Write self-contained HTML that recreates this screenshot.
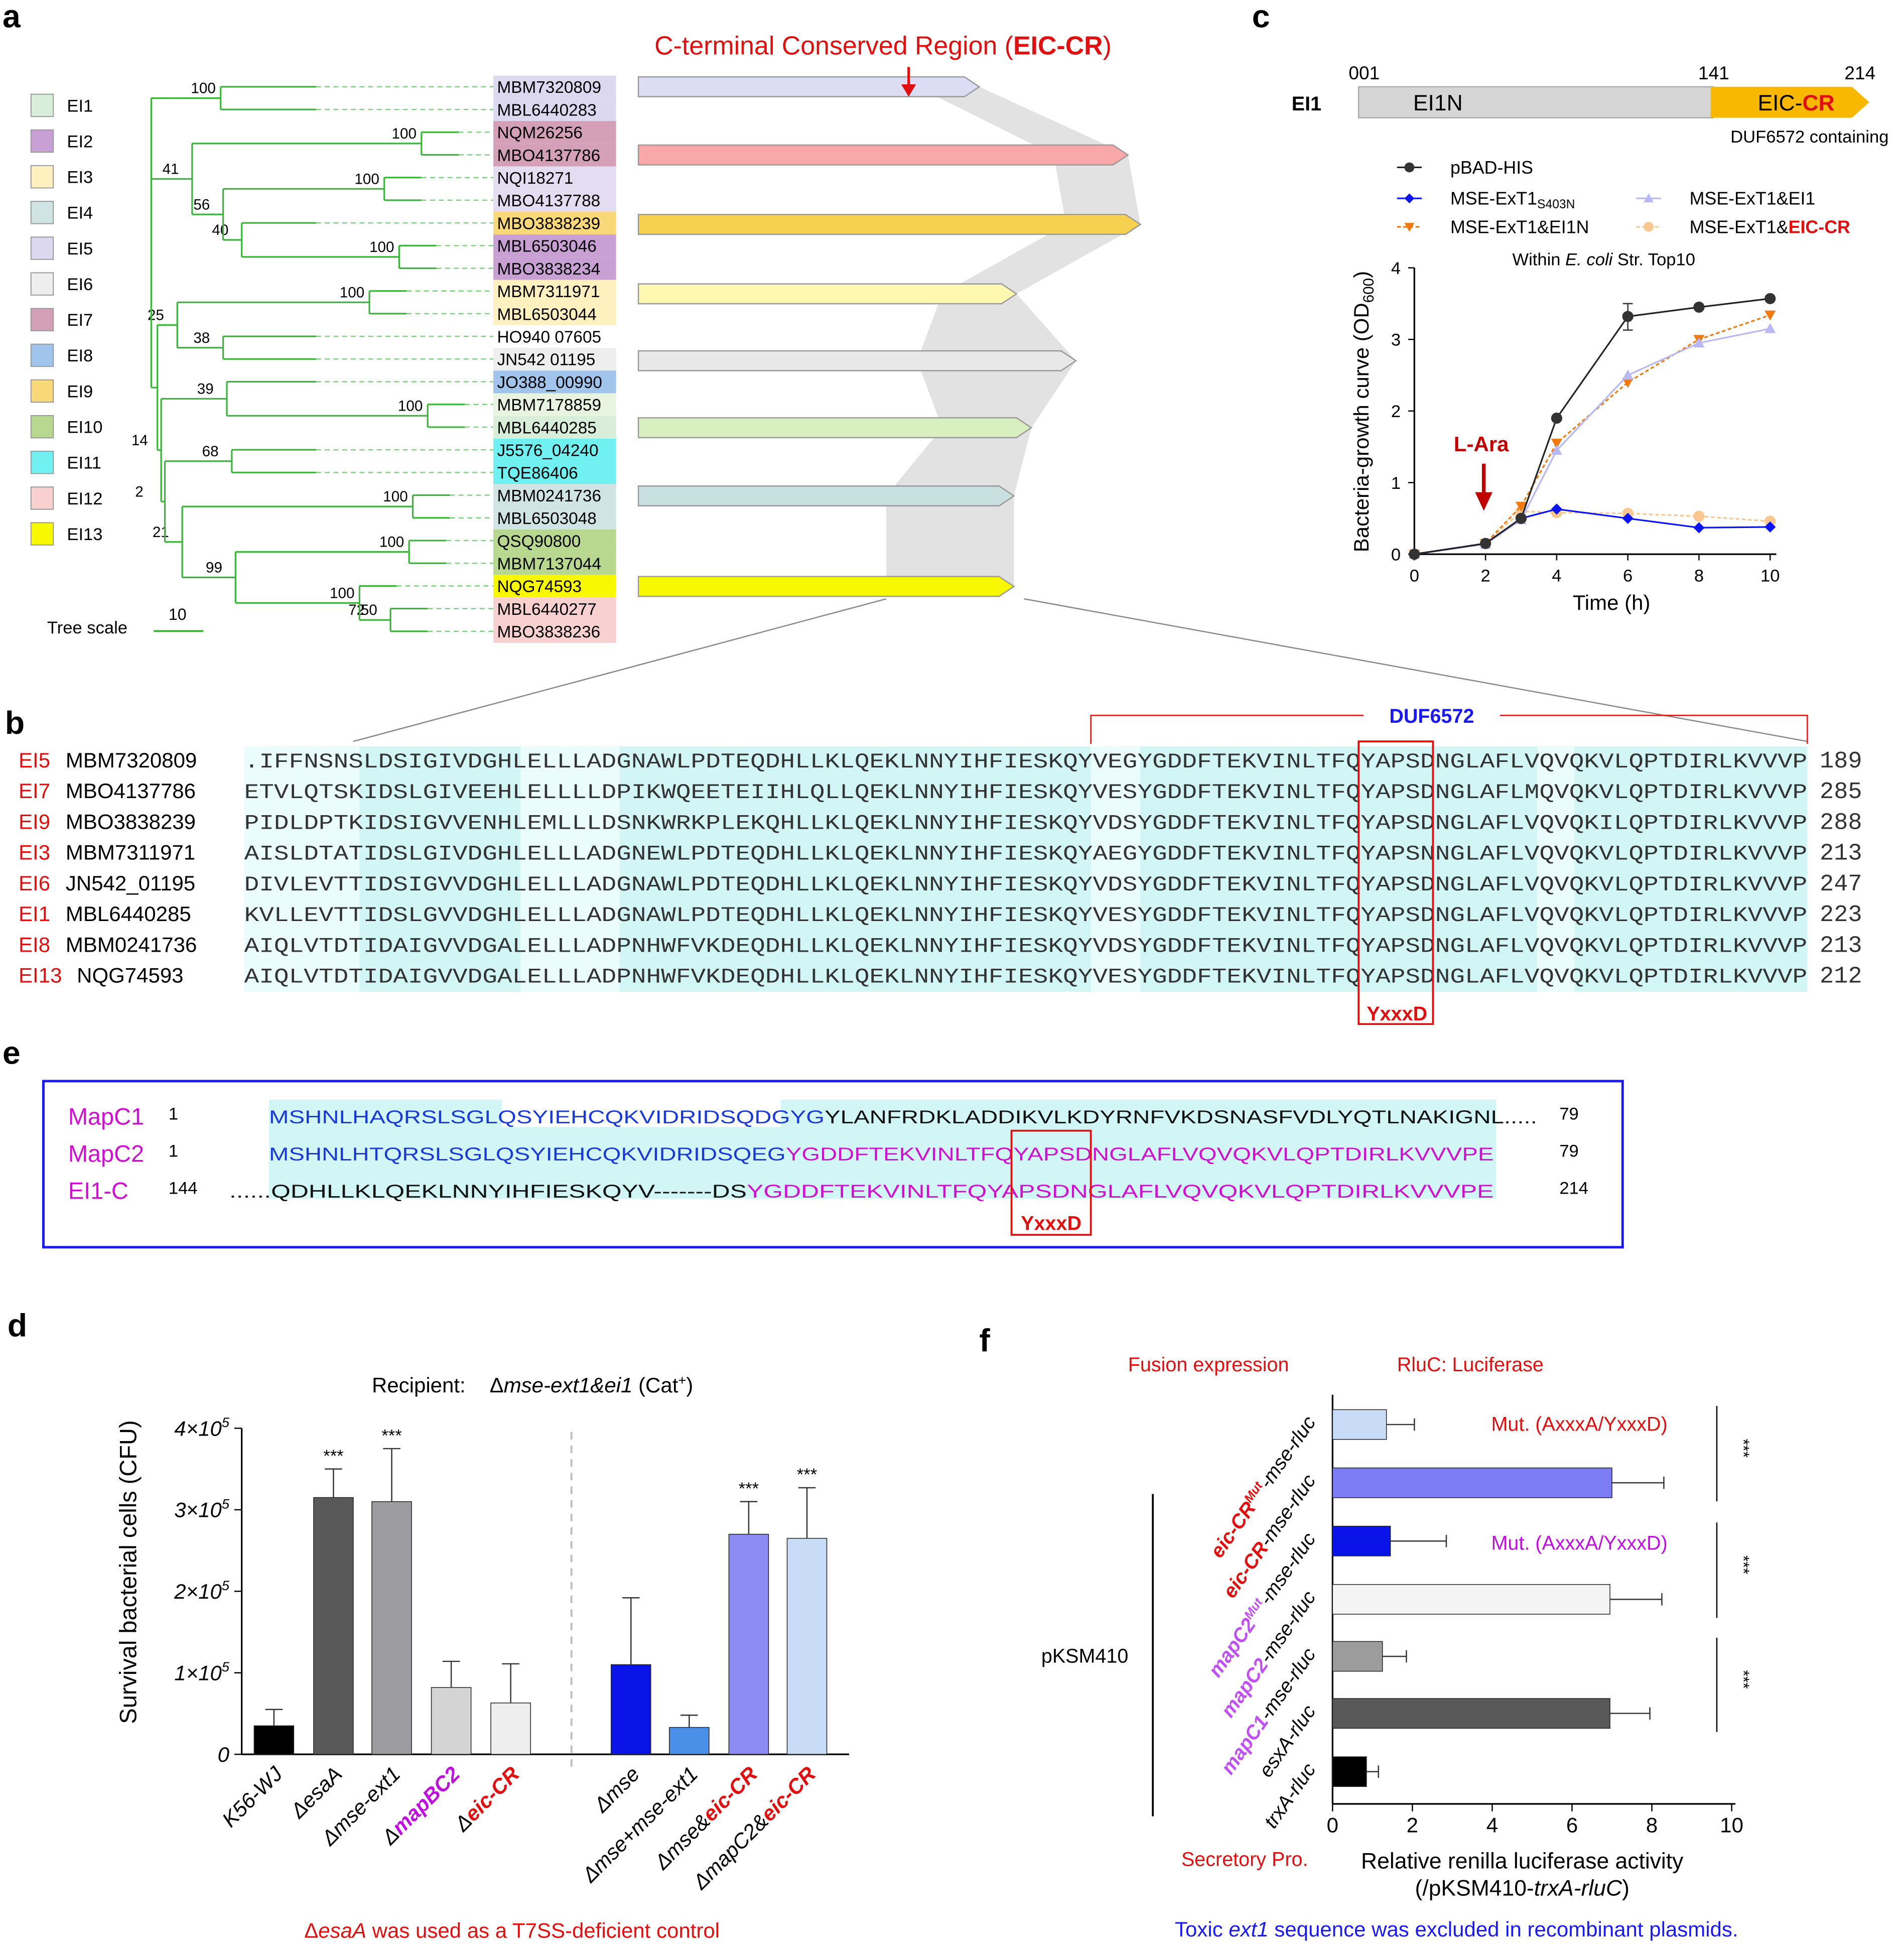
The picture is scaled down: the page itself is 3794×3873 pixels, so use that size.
<!DOCTYPE html>
<html><head><meta charset="utf-8">
<style>
html,body{margin:0;padding:0;background:#fff;}
svg{display:block;font-family:"Liberation Sans",sans-serif;}
.mono{font-family:"Liberation Mono",monospace;}
</style></head>
<body>
<svg id="fig" xmlns="http://www.w3.org/2000/svg" width="3794" height="3873" viewBox="0 0 1536 1568" preserveAspectRatio="none">
<g font-weight="bold" font-size="26">
<text x="2" y="22">a</text><text x="1010" y="22">c</text><text x="4" y="592">b</text>
<text x="2" y="858">e</text><text x="6" y="1078">d</text><text x="790" y="1090">f</text>
</g>
<g id="panelA"></g>
<g id="panelB"></g>
<g id="panelC"></g>
<g id="panelE"></g>
<g id="panelD"></g>
<g id="panelF"></g>
</svg>
<script>
const cTimes = [0,2,3,4,6,8,10];
const cPbad = [0,0.15,0.5,1.9,3.32,3.45,3.57];
const cS403N = [0,0.15,0.5,0.63,0.5,0.37,0.38];
const cEI1 = [0,0.14,0.48,1.45,2.5,2.95,3.15];
const cEI1N = [0,0.15,0.67,1.55,2.4,3.0,3.34];
const cEICR = [0,0.15,0.6,0.58,0.57,0.53,0.46];
const cXTicks = [0,2,4,6,8,10];
const cYTicks = [0,1,2,3,4];
const dCats = ["K56-WJ","ΔesaA","Δmse-ext1","ΔmapBC2","Δeic-CR","Δmse","Δmse+mse-ext1","Δmse&eic-CR","ΔmapC2&eic-CR"];
const dVals = [0.35,3.15,3.1,0.82,0.63,1.1,0.33,2.7,2.65];
const dErr = [0.2,0.35,0.65,0.32,0.48,0.82,0.15,0.4,0.62];
const dSig = ["","***","***","","","","","***","***"];
const dYTicks = [0,1,2,3,4];
const fCats = ["eic-CRMut-mse-rluc","eic-CR-mse-rluc","mapC2Mut-mse-rluc","mapC2-mse-rluc","mapC1-mse-rluc","esxA-rluc","trxA-rluc"];
const fVals = [1.35,7.0,1.45,6.95,1.25,6.95,0.85];
const fErr = [0.7,1.3,1.4,1.3,0.6,1.0,0.3];
const fXTicks = [0,2,4,6,8,10];

const NS="http://www.w3.org/2000/svg";
function mk(parent,tag,attrs,text){const e=document.createElementNS(NS,tag);for(const k in attrs)e.setAttribute(k,attrs[k]);if(text!==undefined)e.textContent=text;parent.appendChild(e);return e;}

(function(){
const g=document.getElementById('panelA');
const leg=[["EI1","#d8eed8"],["EI2","#c8a0d4"],["EI3","#fff0c0"],["EI4","#d0e4e4"],["EI5","#dcd8f0"],["EI6","#eeeeee"],["EI7","#d4a0b8"],["EI8","#a0c4ec"],["EI9","#f8d878"],["EI10","#b8d890"],["EI11","#70f0f0"],["EI12","#f8d0d0"],["EI13","#f8f800"]];
leg.forEach((l,i)=>{const y=76+i*28.8;
 const r=mk(g,'rect',{x:25,y:y,width:18,height:18,fill:l[1],stroke:'#999','stroke-width':0.8});
 
 
 const t=mk(g,'text',{x:54,y:y+14,'font-size':14},l[0]);
 
 
});
const leaves=["MBM7320809","MBL6440283","NQM26256","MBO4137786","NQI18271","MBO4137788","MBO3838239","MBL6503046","MBO3838234","MBM7311971","MBL6503044","HO940 07605","JN542 01195","JO388_00990","MBM7178859","MBL6440285","J5576_04240","TQE86406","MBM0241736","MBL6503048","QSQ90800","MBM7137044","NQG74593","MBL6440277","MBO3838236"];
const lcol=["#dcd8f0","#dcd8f0","#d4a0b8","#d4a0b8","#e4dcf0","#e4dcf0","#f8d878","#c8a0d4","#c8a0d4","#fff0c0","#fff0c0","#fff","#eeeeee","#a0c4ec","#e8f4e0","#d8eed8","#70f0f0","#70f0f0","#d0e4e4","#d0e4e4","#b8d890","#b8d890","#f8f800","#f8d0d0","#f8d0d0"];
const ly=i=>70+i*18.3;
leaves.forEach((n,i)=>{const y=ly(i);
 mk(g,'rect',{x:398,y:y-9,width:99,height:18.3,fill:lcol[i]});
 const t=mk(g,'text',{x:401,y:y+5,'font-size':13.5},n);
 
 
});
const tree=[122,[[140,[[178,[0,1],"100"]],""],[155,[[340,[2,3],"100"],[180,[[310,[4,5],"100"],[195,[6,[322,[7,8],"100"]],"40"]],"56"]],"41"],
 [127,[[143,[[298,[9,10],"100"],[180,[11,12],"38"]],"25"],[130,[[183,[13,[345,[14,15],"100"]],"39"],[133,[[187,[16,17],"68"],[147,[[333,[18,19],"100"],[190,[[330,[20,21],"100"],[290,[22,[305,[[315,[23,24],"50"]],"72"]],"100"]],"99"]],"21"]],"2"]],"14"]],""]],""];
function draw(n,px){
 if(typeof n==='number'){const y=ly(n);const tx=255;mk(g,'line',{x1:px,y1:y,x2:Math.max(tx,px+30),y2:y,stroke:'#3cb43c','stroke-width':1.3});
  mk(g,'line',{x1:Math.max(tx,px+30),y1:y,x2:398,y2:y,stroke:'#7fd07f','stroke-width':1,'stroke-dasharray':'4,3'});return y;}
 const x=n[0];const ys=n[1].map(c=>draw(c,x));const y0=Math.min(...ys),y1=Math.max(...ys);const ym=(y0+y1)/2;
 mk(g,'line',{x1:x,y1:y0,x2:x,y2:y1,stroke:'#3cb43c','stroke-width':1.3});
 if(px!==null)mk(g,'line',{x1:px,y1:ym,x2:x,y2:ym,stroke:'#3cb43c','stroke-width':1.3});
 if(n[2])mk(g,'text',{x:x-24,y:ym-4,'font-size':12},n[2]);
 return ym;}
draw(tree,null);
const ts=mk(g,'text',{x:38,y:511,'font-size':14},"Tree scale");
mk(g,'text',{x:136,y:500,'font-size':13},"10");
mk(g,'line',{x1:124,y1:509,x2:164,y2:509,stroke:'#3cb43c','stroke-width':1.5});
mk(g,'polygon',{points:"790,70 910,125 920,181 820,237 868,291 832,345 818,400 818,473 715,473 715,400 760,345 740,291 760,237 860,181 850,125 740,70",fill:'#e2e2e2'});
const arrows=[[70,790,"#dcdcf4"],[125,910,"#f8a8a8"],[181,920,"#f8d050"],[237,820,"#fff8b0"],[291,868,"#e8e8e8"],[345,832,"#d8f0c0"],[400,818,"#c8e0e0"],[473,818,"#f8f800"]];
arrows.forEach(a=>{const y=a[0],e=a[1];const p=mk(g,'polygon',{points:`515,${y-8} ${e-12},${y-8} ${e},${y} ${e-12},${y+8} 515,${y+8}`,fill:a[2],stroke:'#999','stroke-width':1});
 });
const tt=mk(g,'text',{x:528,y:44,'font-size':21,fill:'#e01010'});tt.innerHTML='C-terminal Conserved Region (<tspan font-weight="bold">EIC-CR</tspan>)';

mk(g,'line',{x1:733,y1:54,x2:733,y2:72,stroke:'#e01010','stroke-width':2});
mk(g,'polygon',{points:"727,68 739,68 733,78",fill:'#e01010'});
mk(g,'line',{x1:715,y1:483,x2:285,y2:598,stroke:'#888','stroke-width':1});
mk(g,'line',{x1:826,y1:483,x2:1458,y2:598,stroke:'#888','stroke-width':1});
})();

(function(){
const g=document.getElementById('panelB');
const rows=[["EI5","MBM7320809",".IFFNSNSLDSIGIVDGHLELLLADGNAWLPDTEQDHLLKLQEKLNNYIHFIESKQYVEGYGDDFTEKVINLTFQYAPSDNGLAFLVQVQKVLQPTDIRLKVVVP","189"],
["EI7","MBO4137786","ETVLQTSKIDSLGIVEEHLELLLLDPIKWQEETEIIHLQLLQEKLNNYIHFIESKQYVESYGDDFTEKVINLTFQYAPSDNGLAFLMQVQKVLQPTDIRLKVVVP","285"],
["EI9","MBO3838239","PIDLDPTKIDSIGVVENHLEMLLLDSNKWRKPLEKQHLLKLQEKLNNYIHFIESKQYVDSYGDDFTEKVINLTFQYAPSDNGLAFLVQVQKILQPTDIRLKVVVP","288"],
["EI3","MBM7311971","AISLDTATIDSLGIVDGHLELLLADGNEWLPDTEQDHLLKLQEKLNNYIHFIESKQYAEGYGDDFTEKVINLTFQYAPSNNGLAFLVQVQKVLQPTDIRLKVVVP","213"],
["EI6","JN542_01195","DIVLEVTTIDSIGVVDGHLELLLADGNAWLPDTEQDHLLKLQEKLNNYIHFIESKQYVDSYGDDFTEKVINLTFQYAPSDNGLAFLVQVQKVLQPTDIRLKVVVP","247"],
["EI1","MBL6440285","KVLLEVTTIDSLGVVDGHLELLLADGNAWLPDTEQDHLLKLQEKLNNYIHFIESKQYVESYGDDFTEKVINLTFQYAPSDNGLAFLVQVQKVLQPTDIRLKVVVP","223"],
["EI8","MBM0241736","AIQLVTDTIDAIGVVDGALELLLADPNHWFVKDEQDHLLKLQEKLNNYIHFIESKQYVDSYGDDFTEKVINLTFQYAPSDNGLAFLVQVQKVLQPTDIRLKVVVP","213"],
["EI13","NQG74593","AIQLVTDTIDAIGVVDGALELLLADPNHWFVKDEQDHLLKLQEKLNNYIHFIESKQYVESYGDDFTEKVINLTFQYAPSDNGLAFLVQVQKVLQPTDIRLKVVVP","212"]];
[[197,1458]].forEach(b=>mk(g,'rect',{x:b[0],y:602,width:b[1]-b[0],height:198,fill:'#d2f6f6'}));
[[197,290],[420,500],[880,920],[1240,1270]].forEach(b=>mk(g,'rect',{x:b[0],y:602,width:b[1]-b[0],height:198,fill:'#eafcfc'}));
rows.forEach((r,i)=>{const y=619+i*24.8;
 mk(g,'text',{x:15,y:y,'font-size':17,fill:'#e01010'},r[0]);
 const n=mk(g,'text',{x:r[0].length>3?62:53,y:y,'font-size':17},r[1]);
 const s=mk(g,'text',{x:197,y:y,'font-size':17,class:'mono',textLength:1261,lengthAdjust:'spacingAndGlyphs',fill:'#333'},r[2]);
 
 mk(g,'text',{x:1468,y:y,'font-size':19,class:'mono',fill:'#333'},r[3]);
});
mk(g,'rect',{x:1096,y:598,width:60,height:228,fill:'none',stroke:'#e01010','stroke-width':1.5});
mk(g,'text',{x:1127,y:823,'font-size':16,'font-weight':'bold',fill:'#e01010','text-anchor':'middle'},"YxxxD");
mk(g,'path',{d:"M880,600 V577 H1100 M1210,577 H1458 V600",fill:'none',stroke:'#e01010','stroke-width':1});
mk(g,'text',{x:1155,y:583,'font-size':16,'font-weight':'bold',fill:'#1a1af0','text-anchor':'middle'},"DUF6572");
})();

(function(){
const g=document.getElementById('panelC');
mk(g,'rect',{x:1096,y:70,width:286,height:25,fill:'#d6d6d6',stroke:'#aaa'});
mk(g,'polygon',{points:"1380,70 1494,70 1508,82.5 1494,95 1380,95",fill:'#f8b800'});
mk(g,'text',{x:1042,y:89,'font-size':16,'font-weight':'bold'},"EI1");
mk(g,'text',{x:1140,y:89,'font-size':18},"EI1N");
const ec=mk(g,'text',{x:1418,y:89,'font-size':18});ec.innerHTML='EIC-<tspan fill="#e01010" font-weight="bold">CR</tspan>';
mk(g,'text',{x:1088,y:64,'font-size':15},"001");mk(g,'text',{x:1370,y:64,'font-size':15},"141");mk(g,'text',{x:1488,y:64,'font-size':15},"214");
mk(g,'text',{x:1396,y:115,'font-size':14},"DUF6572 containing");
const X=t=>1141+t*28.7, Y=v=>447-v*57.75;
const series=[[cPbad,'#222','circle',false,'#333'],[cS403N,'#0a14f0','diamond',false,'#0a14f0'],[cEI1,'#b8b8f4','tri',false,'#b8b8f4'],[cEI1N,'#f07a10','tridown',true,'#f07a10'],[cEICR,'#f8c890','circle',true,'#f8c890']];
function marker(par,t,x,y,c,s){
 if(t==='circle')return mk(par,'circle',{cx:x,cy:y,r:s,fill:c});
 if(t==='diamond')return mk(par,'polygon',{points:`${x},${y-s} ${x+s},${y} ${x},${y+s} ${x-s},${y}`,fill:c});
 if(t==='tri')return mk(par,'polygon',{points:`${x},${y-s} ${x+s},${y+s*0.8} ${x-s},${y+s*0.8}`,fill:c});
 return mk(par,'polygon',{points:`${x},${y+s} ${x+s},${y-s*0.8} ${x-s},${y-s*0.8}`,fill:c});}
const legs=[["pBAD-HIS",1137,140,0],["MSE-ExT1",1137,165,1],["MSE-ExT1&EI1N",1137,188,3],["MSE-ExT1&EI1",1330,165,2],["MSE-ExT1&EIC-CR",1330,188,4]];
legs.forEach(l=>{const s=series[l[3]];mk(g,'line',{x1:l[1]-10,y1:l[2]-5,x2:l[1]+10,y2:l[2]-5,stroke:s[1],'stroke-width':1.3,'stroke-dasharray':s[3]?'3,2':''});
 marker(g,s[2],l[1],l[2]-5,s[4],4);
 const t=mk(g,'text',{x:l[1]+33,y:l[2],'font-size':14.5});
 if(l[0]==="MSE-ExT1")t.innerHTML='MSE-ExT1<tspan font-size="10" dy="3">S403N</tspan>';
 else if(l[0]==="MSE-ExT1&EIC-CR")t.innerHTML='MSE-ExT1&amp;<tspan fill="#e01010" font-weight="bold">EIC-CR</tspan>';
 else t.textContent=l[0];
 });
const wt=mk(g,'text',{x:1220,y:214,'font-size':14});wt.innerHTML='Within <tspan font-style="italic">E. coli</tspan> Str. Top10';
mk(g,'line',{x1:1141,y1:216,x2:1141,y2:447,stroke:'#000','stroke-width':1.3});
mk(g,'line',{x1:1141,y1:447,x2:1433,y2:447,stroke:'#000','stroke-width':1.3});
cYTicks.forEach(v=>{mk(g,'line',{x1:1136,y1:Y(v),x2:1141,y2:Y(v),stroke:'#000'});const t=mk(g,'text',{x:1130,y:Y(v)+5,'font-size':14,'text-anchor':'end'},v);});
cXTicks.forEach(v=>{mk(g,'line',{x1:X(v),y1:447,x2:X(v),y2:452,stroke:'#000'});const t=mk(g,'text',{x:X(v),y:469,'font-size':14,'text-anchor':'middle'},v);});
const xt=mk(g,'text',{x:1300,y:492,'font-size':17,'text-anchor':'middle'},"Time (h)");
const yt=mk(g,'text',{x:0,y:0,'font-size':17,'text-anchor':'middle',transform:'translate(1104,332) rotate(-90)'});yt.innerHTML='Bacteria-growth curve (OD<tspan font-size="12" dy="4">600</tspan><tspan dy="-4">)</tspan>';

mk(g,'path',{d:`M${X(6)},${Y(3.5)} V${Y(3.13)} M${X(6)-4},${Y(3.5)} H${X(6)+4} M${X(6)-4},${Y(3.13)} H${X(6)+4}`,stroke:'#333',fill:'none'});
series.slice().reverse().forEach(s=>{
 const pts=cTimes.map((t,i)=>X(t)+','+Y(s[0][i])).join(' ');
 const pl=mk(g,'polyline',{points:pts,fill:'none',stroke:s[1],'stroke-width':1.3,'stroke-dasharray':s[3]?'3,2':''});
 
 cTimes.forEach((t,i)=>{const m=marker(g,s[2],X(t),Y(s[0][i]),s[4],4.5);});
});
mk(g,'text',{x:1195,y:364,'font-size':17,'font-weight':'bold',fill:'#c00000','text-anchor':'middle'},"L-Ara");
mk(g,'line',{x1:1197,y1:374,x2:1197,y2:400,stroke:'#c00000','stroke-width':3});
mk(g,'polygon',{points:"1190,397 1204,397 1197,412",fill:'#c00000'});
})();

(function(){
const g=document.getElementById('panelE');
mk(g,'rect',{x:35,y:872,width:1274,height:134,fill:'none',stroke:'#1a1af0','stroke-width':2});
mk(g,'rect',{x:217,y:887,width:990,height:80,fill:'#d2f6f6'});
mk(g,'rect',{x:405,y:887,width:225,height:22,fill:'#fff'});
const rows=[["MapC1","1",'<tspan fill="#1a3ad8">MSHNLHAQRSLSGLQSYIEHCQKVIDRIDSQDGYG</tspan>YLANFRDKLADDIKVLKDYRNFVKDSNASFVDLYQTLNAKIGNL.....',"79",217,1240],
["MapC2","1",'<tspan fill="#1a3ad8">MSHNLHTQRSLSGLQSYIEHCQKVIDRIDSQEG</tspan><tspan fill="#d010d0">YGDDFTEKVINLTFQYAPSDNGLAFLVQVQKVLQPTDIRLKVVVPE</tspan>',"79",217,1205],
["EI1-C","144",'......QDHLLKLQEKLNNYIHFIESKQYV-------DS<tspan fill="#d010d0">YGDDFTEKVINLTFQYAPSDNGLAFLVQVQKVLQPTDIRLKVVVPE</tspan>',"214",185,1205]];
rows.forEach((r,i)=>{const y=906+i*30;
 const n=mk(g,'text',{x:55,y:y+1,'font-size':19,fill:'#d010d0'},r[0]);
 mk(g,'text',{x:136,y:y-3,'font-size':14},r[1]);
 const s=mk(g,'text',{x:r[4],y:y,'font-size':15,textLength:r[5]-r[4],lengthAdjust:'spacingAndGlyphs',fill:'#111'});s.innerHTML=r[2];
 
 mk(g,'text',{x:1258,y:y-3,'font-size':14},r[3]);});
mk(g,'rect',{x:816,y:912,width:64,height:84,fill:'none',stroke:'#e01010','stroke-width':1.5});
mk(g,'text',{x:848,y:992,'font-size':16,'font-weight':'bold',fill:'#e01010','text-anchor':'middle'},"YxxxD");
})();

(function(){
const g=document.getElementById('panelD');
const X0=[221,269,316,364,412,509,556,604,651];
const colors=["#000","#595959","#9c9ca0","#d4d4d4","#eeeeee","#0a14e8","#4a90e8","#8c8cf4","#c8dcf8"];
const Y=v=>1415-v*65.75;
mk(g,'text',{x:300,y:1123,'font-size':17},"Recipient:");
const rt=mk(g,'text',{x:395,y:1123,'font-size':17});rt.innerHTML='Δ<tspan font-style="italic">mse-ext1&amp;ei1</tspan> (Cat<tspan font-size="11" dy="-6">+</tspan><tspan dy="6">)</tspan>';
mk(g,'line',{x1:195,y1:1152,x2:195,y2:1415,stroke:'#000','stroke-width':1.3});
mk(g,'line',{x1:195,y1:1415,x2:685,y2:1415,stroke:'#000','stroke-width':1.3});
dYTicks.forEach(v=>{mk(g,'line',{x1:189,y1:Y(v),x2:195,y2:Y(v),stroke:'#000'});
 const t=mk(g,'text',{x:185,y:Y(v)+6,'font-size':17,'font-style':'italic','text-anchor':'end'});
 t.innerHTML=v===0?'0':v+'×10<tspan font-size="11" dy="-7">5</tspan>';
 });
const yt=mk(g,'text',{x:0,y:0,'font-size':19,'text-anchor':'middle',transform:'translate(110,1268) rotate(-90)'},"Survival bacterial cells (CFU)");

mk(g,'line',{x1:461,y1:1155,x2:461,y2:1430,stroke:'#bbb','stroke-width':1.5,'stroke-dasharray':'6,5'});
dVals.forEach((v,i)=>{const x=X0[i];
 const b=mk(g,'rect',{x:x-16,y:Y(v),width:32,height:1415-Y(v),fill:colors[i],stroke:'#222','stroke-width':0.6});
 
 mk(g,'path',{d:`M${x},${Y(v)} V${Y(v+dErr[i])} M${x-7},${Y(v+dErr[i])} H${x+7}`,stroke:'#333',fill:'none'});
 if(dSig[i])mk(g,'text',{x:x,y:Y(v+dErr[i])-6,'font-size':14,'text-anchor':'middle'},dSig[i]);
 const lab=dCats[i];
 const t=mk(g,'text',{x:0,y:0,'font-size':17,'font-style':'italic','text-anchor':'end',transform:`translate(${x+8},${1432}) rotate(-45)`});
 let html=lab.replace('&','&amp;');
 html=html.replace('eic-CR','<tspan fill="#e01010" font-weight="bold">eic-CR</tspan>').replace('mapBC2','<tspan fill="#c010e0" font-weight="bold">mapBC2</tspan>');
 t.innerHTML=html;
});
const bt=mk(g,'text',{x:413,y:1563,'font-size':17,fill:'#e01010','text-anchor':'middle'});bt.innerHTML='Δ<tspan font-style="italic">esaA</tspan> was used as a T7SS-deficient control';
})();

(function(){
const g=document.getElementById('panelF');
const X=v=>1075+v*32.2;
const rowY=[1149,1196,1243,1290,1336,1382,1429];
const colors=["#c8dcf8","#7c7cf4","#0a14e8","#f4f4f4","#9c9c9c","#595959","#000"];
mk(g,'text',{x:910,y:1106,'font-size':16,fill:'#e01010'},"Fusion expression");
mk(g,'text',{x:1127,y:1106,'font-size':16,fill:'#e01010'},"RluC: Luciferase");
mk(g,'line',{x1:1075,y1:1125,x2:1075,y2:1455,stroke:'#000','stroke-width':1.3});
mk(g,'line',{x1:1075,y1:1455,x2:1400,y2:1455,stroke:'#000','stroke-width':1.3});
fXTicks.forEach(v=>{mk(g,'line',{x1:X(v),y1:1455,x2:X(v),y2:1461,stroke:'#000'});
 const t=mk(g,'text',{x:X(v),y:1478,'font-size':17,'text-anchor':'middle'},v);});
fVals.forEach((v,i)=>{const y=rowY[i];
 const b=mk(g,'rect',{x:1075,y:y-12,width:X(v)-1075,height:24,fill:colors[i],stroke:'#222','stroke-width':0.6});
 
 mk(g,'path',{d:`M${X(v)},${y} H${X(v+fErr[i])} M${X(v+fErr[i])},${y-5} V${y+5}`,stroke:'#333',fill:'none'});
 const t=mk(g,'text',{x:0,y:0,'font-size':16,'font-style':'italic','text-anchor':'end',transform:`translate(1062,${y-2}) rotate(-55)`});
 let n=fCats[i];let html;
 if(n.startsWith('eic-CRMut'))html='<tspan fill="#e01010" font-weight="bold">eic-CR<tspan font-size="10" dy="-6">Mut</tspan></tspan><tspan dy="6">-mse-rluc</tspan>';
 else if(n.startsWith('eic-CR'))html='<tspan fill="#e01010" font-weight="bold">eic-CR</tspan>-mse-rluc';
 else if(n.startsWith('mapC2Mut'))html='<tspan fill="#c050f0" font-weight="bold">mapC2<tspan font-size="10" dy="-6">Mut</tspan></tspan><tspan dy="6">-mse-rluc</tspan>';
 else if(n.startsWith('mapC'))html='<tspan fill="#c050f0" font-weight="bold">'+n.slice(0,5)+'</tspan>-mse-rluc';
 else html=n;
 t.innerHTML=html;
});
mk(g,'text',{x:1203,y:1154,'font-size':16,fill:'#e01010'},"Mut. (AxxxA/YxxxD)");
mk(g,'text',{x:1203,y:1250,'font-size':16,fill:'#c010e0'},"Mut. (AxxxA/YxxxD)");
[[1149,1196],[1243,1290],[1336,1382]].forEach(p=>{mk(g,'line',{x1:1385,y1:p[0]-15,x2:1385,y2:p[1]+15,stroke:'#000'});
 mk(g,'text',{x:0,y:0,'font-size':13,transform:`translate(1402,${(p[0]+p[1])/2-12}) rotate(90)`},"***");});
mk(g,'line',{x1:930,y1:1205,x2:930,y2:1465,stroke:'#000','stroke-width':1.5});
mk(g,'text',{x:840,y:1341,'font-size':16},"pKSM410");
mk(g,'text',{x:953,y:1505,'font-size':16,fill:'#e01010'},"Secretory Pro.");
const xt=mk(g,'text',{x:1228,y:1507,'font-size':18,'text-anchor':'middle'},"Relative renilla luciferase activity");
const x2=mk(g,'text',{x:1228,y:1529,'font-size':18,'text-anchor':'middle'});x2.innerHTML='(/pKSM410-<tspan font-style="italic">trxA-rluC</tspan>)';
const bt=mk(g,'text',{x:1175,y:1562,'font-size':17,fill:'#1a1af0','text-anchor':'middle'});bt.innerHTML='Toxic <tspan font-style="italic">ext1</tspan> sequence was excluded in recombinant plasmids.';
})();
</script>
</body></html>
